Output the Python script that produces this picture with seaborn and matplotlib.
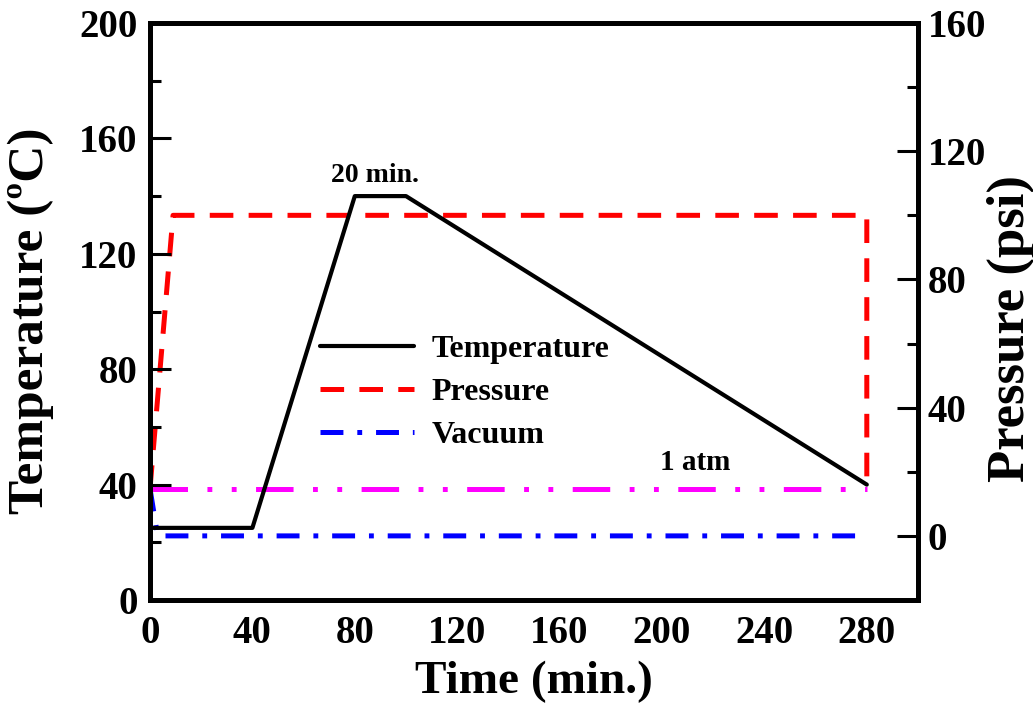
import matplotlib
matplotlib.use('Agg')
import matplotlib.pyplot as plt
import seaborn as sns
import pandas as pd
from matplotlib.lines import Line2D
from matplotlib.ticker import MultipleLocator

# ---- data ----
time_temp = [0, 40, 80, 100, 280]
temperature = [25, 25, 140, 140, 40]
time_press = [0, 9, 280, 280]
pressure = [14.7, 100, 100, 14.7]
time_vac = [0, 3, 280]
vacuum = [14.7, 0, 0]
time_atm = [0, 280]
atm = [14.7, 14.7]
legend_labels = ["Temperature", "Pressure", "Vacuum"]
x_ticks = [0, 40, 80, 120, 160, 200, 240, 280]

sns.set_style('white')
plt.rcParams['font.family'] = ['Liberation Serif', 'DejaVu Serif']
plt.rcParams['font.weight'] = 'bold'
plt.rcParams['lines.scale_dashes'] = False
for k in ['text.color', 'axes.labelcolor', 'xtick.color', 'ytick.color', 'axes.edgecolor']:
    plt.rcParams[k] = 'black'

fig, ax = plt.subplots(figsize=(10.33, 7.11), dpi=100)
fig.subplots_adjust(left=150/1033, right=918/1033, bottom=1-600/711, top=1-23/711)
ax2 = ax.twinx()

red_ls = (0, (17, 11))
blue_ls = (0, (16.5, 10, 3.5, 10))
mag_ls = (0, (27, 14, 3.5, 14, 3.5, 14))

df_p = pd.DataFrame({'t': time_press, 'p': pressure})
df_v = pd.DataFrame({'t': time_vac, 'p': vacuum})
df_a = pd.DataFrame({'t': time_atm, 'p': atm})
df_t = pd.DataFrame({'t': time_temp, 'T': temperature})

sns.lineplot(data=df_a, x='t', y='p', ax=ax2, color='#ff00ff', lw=3.6, linestyle=mag_ls,
             sort=False, estimator=None)
sns.lineplot(data=df_v, x='t', y='p', ax=ax2, color='#0000ff', lw=3.6, linestyle=blue_ls,
             sort=False, estimator=None)
sns.lineplot(data=df_p, x='t', y='p', ax=ax2, color='#ff0000', lw=3.6, linestyle=red_ls,
             sort=False, estimator=None)
sns.lineplot(data=df_t, x='t', y='T', ax=ax, color='black', lw=3.0, sort=False, estimator=None)

ax.set_zorder(ax2.get_zorder() + 1)
ax.patch.set_visible(False)

ax.set_xlim(0, 300)
ax.set_ylim(0, 200)
ax2.set_ylim(-20, 160)
ax.set_xticks(x_ticks)
ax.xaxis.set_minor_locator(MultipleLocator(20))
ax.yaxis.set_major_locator(MultipleLocator(40))
ax.yaxis.set_minor_locator(MultipleLocator(20))
ax2.set_yticks([0, 40, 80, 120, 160])
ax2.yaxis.set_minor_locator(MultipleLocator(20))

for a in (ax, ax2):
    for s in a.spines.values():
        s.set_linewidth(3.5)
        s.set_color('black')
        s.set_visible(True)

ax.tick_params(axis='both', which='both', direction='in', width=2.2, top=False, right=False,
               colors='black', labelsize=28)
ax.tick_params(axis='both', which='major', length=15)
ax.tick_params(axis='both', which='minor', length=8)
ax.tick_params(axis='y', pad=9)
ax.tick_params(axis='x', pad=11)
ax2.tick_params(axis='y', which='both', direction='in', width=2.2, left=False, right=True,
                colors='black', labelsize=28, pad=7)
ax2.tick_params(axis='y', which='major', length=15)
ax2.tick_params(axis='y', which='minor', length=8)

ax.set_xlabel('Time (min.)', fontsize=34, fontweight='bold')
ax.set_ylabel('Temperature (ºC)', fontsize=37, fontweight='bold')
ax2.set_ylabel('Pressure (psi)', fontsize=38, fontweight='bold')
ax.xaxis.set_label_coords(0.5, -0.105)
ax.yaxis.set_label_coords(-0.125, 0.4835)
ax2.yaxis.set_label_coords(1.089, 0.471)

ax.text(88, 145, '20 min.', ha='center', va='baseline', fontsize=20, fontweight='bold')
ax.text(213, 45, '1 atm', ha='center', va='baseline', fontsize=21, fontweight='bold')

handles = [
    Line2D([], [], color='black', lw=3.0),
    Line2D([], [], color='#ff0000', lw=3.6, linestyle=red_ls),
    Line2D([], [], color='#0000ff', lw=3.6, linestyle=blue_ls),
]
leg = ax.legend(handles, legend_labels, loc='upper left', bbox_to_anchor=(320/1033, 1-335/711),
                bbox_transform=fig.transFigure, frameon=False, handlelength=2.95,
                handletextpad=0.55, labelspacing=0.42, borderpad=0, borderaxespad=0,
                prop={'weight': 'bold', 'size': 23})

fig.savefig('out.png', dpi=100)
